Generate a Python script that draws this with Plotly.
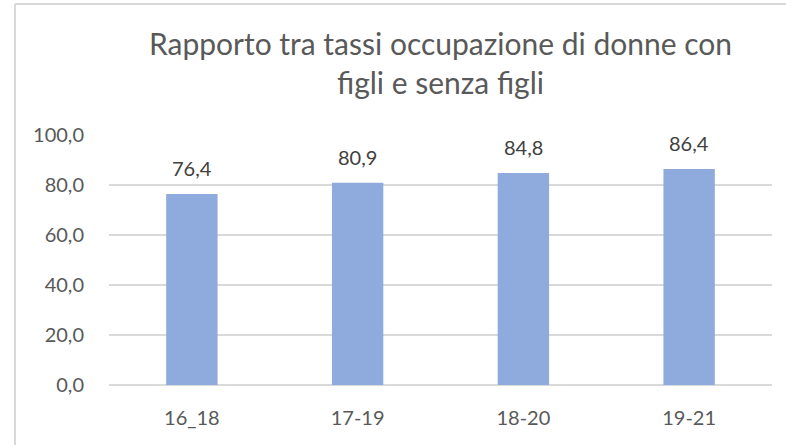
import plotly.graph_objects as go

# dati
periodi = ["16_18", "17-19", "18-20", "19-21"]
rapporto = [76.4, 80.9, 84.8, 86.4]
titolo = "Rapporto tra tassi occupazione di donne con<br>figli e senza figli"

W, H = 786, 445
ML, MR, MT, MB = 109, 14, 134, 60
pw = W - ML - MR
ph = H - MT - MB

FONT = "Lato"
GRIGIO = "#D9D9D9"

fig = go.Figure()
fig.add_trace(go.Bar(
    x=periodi,
    y=rapporto,
    marker=dict(color="#8FAADC", line=dict(width=0)),
    showlegend=False,
))

# etichette sopra le barre
for p, v in zip(periodi, rapporto):
    fig.add_annotation(
        x=p, y=v, text=f"{v:.1f}".replace(".", ","),
        showarrow=False, yanchor="middle", yshift=26,
        font=dict(family=FONT, size=20, color="#404040"),
    )

# cornice del grafico: solo lato sinistro e lato superiore sono visibili
x_bordo = (15 - ML) / pw
y_bordo = (H - MB - 4) / ph
fig.add_shape(type="line", xref="paper", yref="paper",
              x0=x_bordo, x1=x_bordo, y0=-(MB + 5) / ph, y1=y_bordo,
              line=dict(color=GRIGIO, width=2))
fig.add_shape(type="line", xref="paper", yref="paper",
              x0=x_bordo, x1=(W + 5 - ML) / pw, y0=y_bordo, y1=y_bordo,
              line=dict(color=GRIGIO, width=2))

fig.update_layout(
    width=W, height=H,
    margin=dict(l=ML, r=MR, t=MT, b=MB),
    paper_bgcolor="white", plot_bgcolor="white",
    bargap=0.69,
    separators=",.",
    font=dict(family=FONT, size=20, color="#595959"),
    title=dict(
        text=titolo, x=0.5, xref="paper", xanchor="center",
        y=1 - 55 / H, yref="container", yanchor="middle",
        font=dict(family=FONT, size=30, color="#595959"),
    ),
)
fig.update_yaxes(
    range=[0, 100.4], tickvals=[0, 20, 40, 60, 80, 100], tickformat=".1f",
    showgrid=True, gridcolor=GRIGIO, gridwidth=1.5,
    zeroline=True, zerolinecolor=GRIGIO, zerolinewidth=1.5,
    showline=False, ticks="", ticklabelstandoff=24,
)
fig.update_xaxes(
    showgrid=False, showline=False, ticks="", ticklabelstandoff=19,
)

# niente margine della pagina, così il grafico parte dall'angolo in alto a sinistra
fig.write_html(
    "out.html",
    config={"displayModeBar": False},
    post_script="document.body.style.margin='0';document.body.style.overflow='hidden';",
)
